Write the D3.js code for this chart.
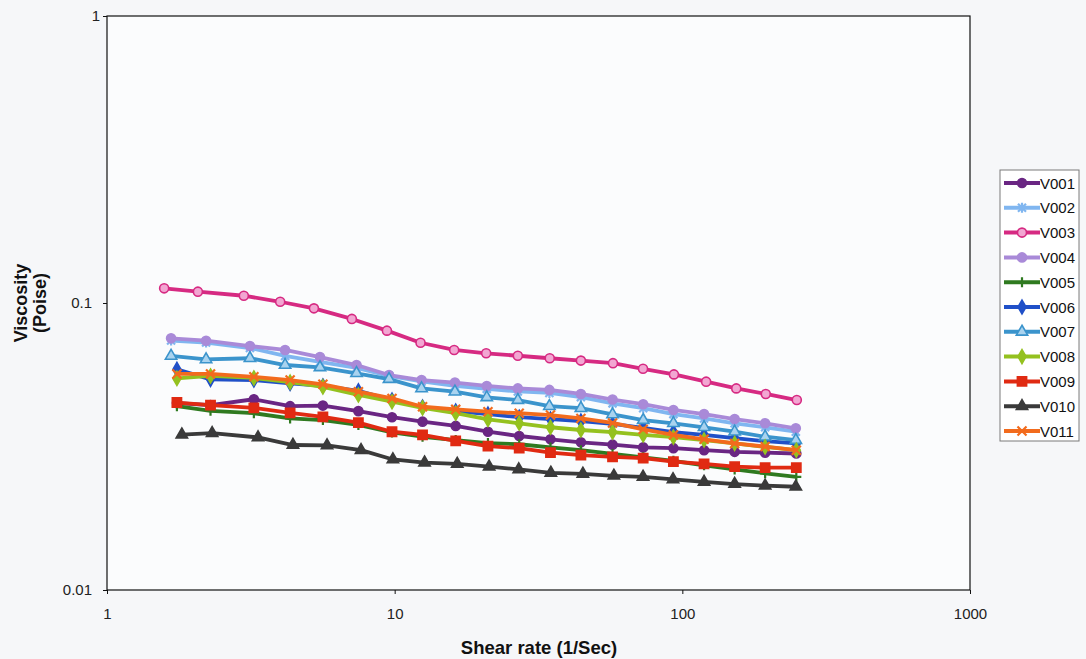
<!DOCTYPE html>
<html>
<head>
<meta charset="utf-8">
<script src="https://cdn.jsdelivr.net/npm/d3@7"></script>
<style>
  body { margin: 0; background: #f6f7f9; }
  svg { display: block; font-family: "Liberation Sans", Arial, sans-serif; }
</style>
</head>
<body>
<svg id="chart" width="1086" height="659"></svg>
<script>
// Shear rates (1/s) for each measurement run
const shearA = [1.58, 2.07, 2.99, 4.0, 5.24, 7.1, 9.4, 12.3, 16.1, 20.8, 26.8, 34.6, 44.4, 57.4, 73.0, 93.5, 121, 154, 195, 250];
const shearB = [1.67, 2.21, 3.14, 4.16, 5.50, 7.37, 9.56, 12.4, 16.2, 20.9, 26.8, 34.5, 44.4, 57.2, 73.1, 93.1, 119, 152, 194, 248];
const shearC = [1.75, 2.29, 3.24, 4.33, 5.63, 7.48, 9.79, 12.5, 16.3, 21.1, 27.1, 34.8, 44.4, 57.2, 73.1, 93.1, 119, 152, 194, 249];
const shearD = [1.82, 2.32, 3.35, 4.43, 5.82, 7.64, 9.86, 12.7, 16.5, 21.3, 27.0, 34.9, 45.1, 57.8, 73.0, 92.8, 119, 152, 194, 248];

// Viscosity (Poise) per sample
const v001 = [0.0448, 0.0441, 0.0462, 0.0437, 0.0439, 0.0420, 0.0400, 0.0386, 0.0373, 0.0356, 0.0344, 0.0335, 0.0327, 0.0321, 0.0314, 0.0312, 0.0307, 0.0303, 0.0301, 0.0299];
const v002 = [0.0740, 0.0728, 0.0697, 0.0654, 0.0623, 0.0594, 0.0557, 0.0533, 0.0514, 0.0502, 0.0492, 0.0486, 0.0470, 0.0447, 0.0430, 0.0410, 0.0396, 0.0381, 0.0369, 0.0356];
const v003 = [0.1125, 0.1095, 0.1060, 0.1010, 0.0958, 0.0880, 0.0801, 0.0727, 0.0686, 0.0668, 0.0655, 0.0642, 0.0630, 0.0617, 0.0590, 0.0564, 0.0532, 0.0504, 0.0482, 0.0459];
const v004 = [0.0753, 0.0739, 0.0708, 0.0686, 0.0648, 0.0608, 0.0561, 0.0539, 0.0528, 0.0514, 0.0504, 0.0498, 0.0482, 0.0461, 0.0444, 0.0424, 0.0410, 0.0394, 0.0381, 0.0366];
const v005 = [0.0437, 0.0421, 0.0413, 0.0396, 0.0391, 0.0376, 0.0354, 0.0342, 0.0333, 0.0325, 0.0322, 0.0314, 0.0307, 0.0298, 0.0290, 0.0282, 0.0272, 0.0263, 0.0255, 0.0248];
const v006 = [0.0587, 0.0542, 0.0539, 0.0525, 0.0514, 0.0494, 0.0459, 0.0434, 0.0420, 0.0410, 0.0400, 0.0394, 0.0388, 0.0379, 0.0367, 0.0355, 0.0347, 0.0338, 0.0330, 0.0324];
const v007 = [0.0654, 0.0636, 0.0642, 0.0608, 0.0597, 0.0569, 0.0543, 0.0504, 0.0491, 0.0469, 0.0459, 0.0437, 0.0430, 0.0409, 0.0391, 0.0381, 0.0369, 0.0356, 0.0342, 0.0333];
const v008 = [0.0546, 0.0557, 0.0548, 0.0530, 0.0510, 0.0478, 0.0453, 0.0431, 0.0413, 0.0393, 0.0381, 0.0369, 0.0361, 0.0355, 0.0347, 0.0341, 0.0333, 0.0324, 0.0315, 0.0307];
const v009 = [0.0450, 0.0441, 0.0431, 0.0414, 0.0401, 0.0383, 0.0356, 0.0347, 0.0331, 0.0317, 0.0312, 0.0301, 0.0295, 0.0291, 0.0288, 0.0280, 0.0275, 0.0269, 0.0267, 0.0267];
const v010 = [0.0348, 0.0352, 0.0340, 0.0320, 0.0319, 0.0307, 0.0285, 0.0278, 0.0275, 0.0269, 0.0263, 0.0256, 0.0254, 0.0250, 0.0248, 0.0243, 0.0238, 0.0234, 0.0231, 0.0229];
const v011 = [0.0566, 0.0566, 0.0553, 0.0539, 0.0521, 0.0491, 0.0465, 0.0435, 0.0426, 0.0418, 0.0413, 0.0407, 0.0396, 0.0382, 0.0363, 0.0347, 0.0335, 0.0324, 0.0316, 0.0307];

const seriesNames = ["V001", "V002", "V003", "V004", "V005", "V006", "V007", "V008", "V009", "V010", "V011"];
const xTicks = [1, 10, 100, 1000];
const yTicks = [0.01, 0.1, 1];
const yTickLabels = ["0.01", "0.1", "1"];

const series = [
  { name: seriesNames[0],  shear: shearC, visc: v001, color: "#6a2683", marker: "circle",   fill: "#6a2683" },
  { name: seriesNames[1],  shear: shearB, visc: v002, color: "#80b6f0", marker: "star",     fill: "none" },
  { name: seriesNames[2],  shear: shearA, visc: v003, color: "#d62a82", marker: "circle",   fill: "#f2a6d2" },
  { name: seriesNames[3],  shear: shearB, visc: v004, color: "#a98ad8", marker: "circle",   fill: "#a98ad8" },
  { name: seriesNames[4],  shear: shearC, visc: v005, color: "#2f7a20", marker: "plus",     fill: "none" },
  { name: seriesNames[5],  shear: shearC, visc: v006, color: "#2050c8", marker: "diamond",  fill: "#2050c8" },
  { name: seriesNames[6],  shear: shearB, visc: v007, color: "#3b94cc", marker: "triangle", fill: "#a9d3ef" },
  { name: seriesNames[7],  shear: shearC, visc: v008, color: "#94c11f", marker: "diamond",  fill: "#94c11f" },
  { name: seriesNames[8],  shear: shearC, visc: v009, color: "#e02a12", marker: "square",   fill: "#e02a12" },
  { name: seriesNames[9],  shear: shearD, visc: v010, color: "#3a3a3a", marker: "triangle", fill: "#3a3a3a" },
  { name: seriesNames[10], shear: shearC, visc: v011, color: "#f26b1d", marker: "cross",    fill: "none" }
];

const svg = d3.select("#chart");
const plot = { left: 107, top: 16, right: 970, bottom: 590 };

const x = d3.scaleLog().domain([1, 1000]).range([plot.left, plot.right]);
const y = d3.scaleLog().domain([0.01, 1]).range([plot.bottom, plot.top]);

// plot area
svg.append("rect")
  .attr("x", plot.left).attr("y", plot.top)
  .attr("width", plot.right - plot.left).attr("height", plot.bottom - plot.top)
  .attr("fill", "#fbfcfd");

// marker shapes
function markerPath(type) {
  switch (type) {
    case "circle":   return d3.symbol(d3.symbolCircle, 64)();
    case "square":   return d3.symbol(d3.symbolSquare, 85)();
    case "diamond":  return d3.symbol(d3.symbolDiamond, 56)();
    case "triangle": return d3.symbol(d3.symbolTriangle, 56)();
    case "plus":     return "M0,-5V5M-5,0H5";
    case "cross":    return "M-4.5,-4.5L4.5,4.5M-4.5,4.5L4.5,-4.5";
    case "star":     return "M-4,-4L4,4M-4,4L4,-4M0,-5V5";
  }
}

const line = d3.line().x(d => x(d[0])).y(d => y(d[1]));

const gSeries = svg.append("g");
series.forEach(s => {
  const pts = s.shear.map((r, i) => [r, s.visc[i]]);
  const g = gSeries.append("g");
  g.append("path")
    .attr("d", line(pts))
    .attr("fill", "none")
    .attr("stroke", s.color)
    .attr("stroke-width", 3.8)
    .attr("stroke-linejoin", "round");
  g.selectAll("path.mk").data(pts).join("path")
    .attr("class", "mk")
    .attr("transform", d => `translate(${x(d[0])},${y(d[1])})`)
    .attr("d", markerPath(s.marker))
    .attr("fill", s.fill)
    .attr("stroke", s.color)
    .attr("stroke-width", s.fill === "none" ? 2.2 : 1.6);
});

// frame
svg.append("rect")
  .attr("x", plot.left).attr("y", plot.top)
  .attr("width", plot.right - plot.left).attr("height", plot.bottom - plot.top)
  .attr("fill", "none").attr("stroke", "#111").attr("stroke-width", 1.2);

// axes
const xAxis = d3.axisBottom(x).tickValues(xTicks).tickFormat(d3.format("d")).tickSize(4).tickPadding(14);
const gx = svg.append("g").attr("transform", `translate(0,${plot.bottom})`).call(xAxis);
gx.select(".domain").remove();
gx.selectAll("line").attr("stroke", "#111");
gx.selectAll("text").attr("font-size", 15).attr("fill", "#222").attr("font-family", "Liberation Sans, Arial, sans-serif");

const yAxis = d3.axisLeft(y).tickValues(yTicks).tickFormat((d, i) => yTickLabels[i]).tickSize(4).tickPadding(11);
const gy = svg.append("g").attr("transform", `translate(${plot.left},0)`).call(yAxis);
gy.select(".domain").remove();
gy.selectAll("line").attr("stroke", "#111");
gy.selectAll("text").attr("font-size", 15).attr("fill", "#222").attr("font-family", "Liberation Sans, Arial, sans-serif");
gy.selectAll(".tick").filter(d => d === 1).select("text").attr("x", -7);

// axis titles
const midY = (plot.top + plot.bottom) / 2;
svg.append("text")
  .attr("transform", `translate(27,${midY}) rotate(-90)`)
  .attr("text-anchor", "middle")
  .attr("font-size", 18).attr("font-weight", "bold").attr("fill", "#111")
  .text("Viscosity");
svg.append("text")
  .attr("transform", `translate(46,${midY}) rotate(-90)`)
  .attr("text-anchor", "middle")
  .attr("font-size", 18).attr("font-weight", "bold").attr("fill", "#111")
  .text("(Poise)");
svg.append("text")
  .attr("x", 539).attr("y", 654)
  .attr("text-anchor", "middle")
  .attr("font-size", 18.5).attr("font-weight", "bold").attr("fill", "#111")
  .text("Shear rate (1/Sec)");

// legend
const legend = svg.append("g").attr("transform", "translate(1000,170)");
legend.append("rect")
  .attr("width", 79).attr("height", 271)
  .attr("fill", "#ffffff").attr("stroke", "#7a7a7a").attr("stroke-width", 1);
series.forEach((s, i) => {
  const cy = 13 + i * 24.8;
  const g = legend.append("g").attr("transform", `translate(0,${cy})`);
  g.append("line").attr("x1", 4).attr("x2", 40).attr("y1", 0).attr("y2", 0)
    .attr("stroke", s.color).attr("stroke-width", 4);
  g.append("path").attr("transform", "translate(22,0)")
    .attr("d", markerPath(s.marker))
    .attr("fill", s.fill).attr("stroke", s.color)
    .attr("stroke-width", s.fill === "none" ? 2.2 : 1.6);
  g.append("text").attr("x", 40).attr("y", 5.5)
    .attr("font-size", 15).attr("fill", "#111")
    .text(s.name);
});
</script>
</body>
</html>
